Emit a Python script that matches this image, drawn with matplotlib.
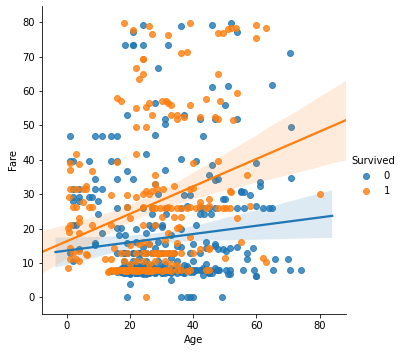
import matplotlib
matplotlib.use("Agg")
import matplotlib.pyplot as plt
import pandas as pd
import seaborn as sns

# (Age, Fare) pairs, Survived = 0
died_high = [(18.5, 73.5), (21, 73.5), (21, 73.5), (24, 73.5), (32, 73.5), (24, 79.2),
             (21, 77.3), (36, 78.85), (46, 79.2), (52, 79.65), (54, 77.3), (70.5, 71.0),
             (29, 66.6), (65, 61.9), (46, 61.2), (51, 61.4), (28, 56.5), (50, 55.9),
             (19, 53.1), (37, 53.1), (31, 52.0), (31, 50.5), (42, 52.0), (47, 52.0),
             (54, 51.9), (28, 47.1), (1, 46.9), (9, 46.9), (11, 46.9), (14, 46.9),
             (16, 46.9), (43, 46.9), (71, 49.5)]
died_mid = [(1, 39.7), (2, 39.7), (7, 39.7), (14, 39.7), (16, 39.7), (25, 41.6), (36, 40.1),
            (41, 39.7), (46, 38.5), (60, 39.0), (19, 36.75), (31, 37.0), (9, 34.4),
            (16, 34.4), (21, 34.4), (45, 35.5), (71, 34.65), (61, 33.5), (61, 32.3),
            (47, 34.0), (48, 34.4), (28, 33.0), (29, 30.0), (37, 29.7), (39, 29.7),
            (55, 30.5), (56, 30.7), (58, 29.7), (49.5, 28.7), (50, 28.7), (55, 31.0)]
died_kids = [(2, 31.4), (4, 31.4), (9, 31.4), (11, 31.4), (2, 29.1), (4, 29.1), (7, 29.1),
             (8, 29.1), (2, 27.9), (4, 27.9), (10, 27.9), (16, 26.0), (19, 26.3), (10, 24.15),
             (2, 21.1), (3, 21.1), (11, 18.8), (16, 20.25), (17, 20.25), (16.5, 18.0),
             (18.5, 18.0), (1, 12.8), (2, 10.5), (4, 14.1), (9, 15.7), (9, 15.2)]
died_26 = [(24, 26), (27, 26), (31.5, 26), (36, 26), (38, 26.55), (42, 26), (43, 26),
           (45, 26), (47, 26), (54, 26), (56, 26), (60, 26.55), (62, 26), (64, 26), (65, 26),
           (27, 24.15), (31.5, 24.15), (42, 24.15), (43.5, 24.15), (45.5, 24.15), (26, 21),
           (28, 21), (30, 21), (22, 19.97), (25, 18.75), (27, 20.25), (30, 20.5), (33, 18),
           (36, 19.97), (41, 21), (44, 16.1), (47, 15.0), (47, 15.5)]
died_13 = [(16, 13), (18, 13), (19, 13), (21, 13), (23, 13), (24, 14.5), (25, 13), (27, 13),
           (28, 14.45), (30, 13), (31, 15.5), (32, 13), (34, 13), (36, 14.5), (39, 13),
           (42, 13), (44, 14.4), (48, 14.0), (49.5, 14.0), (50.5, 13.5), (51.5, 14.4),
           (54, 14.5), (57, 13), (59, 14.4), (19, 15.85), (22, 16.1), (26, 15.5), (29, 16.1),
           (35, 15.05), (40, 15.5), (18, 13), (19, 13), (21, 13), (23, 13), (25, 13),
           (27, 13), (29, 13), (30, 13)]
died_10 = [(18, 10.5), (21, 10.5), (23, 11.5), (25, 10.5), (27, 9.5), (29, 10.5), (30, 9.225),
           (33, 11.5), (35, 10.5), (37, 9.5), (40, 10.5), (44, 9.8), (57, 11.2), (66, 11.2),
           (70, 11.2), (20, 9.5), (24, 9.35), (31, 9.8), (38, 9.225)]
died_8 = [(14, 7.75), (16, 8.05), (17, 7.9), (18, 7.75), (19, 8.05), (20, 7.9), (20.5, 7.75),
          (21, 8.05), (22, 7.9), (22, 7.25), (23, 7.75), (24, 8.05), (24, 7.9), (25, 7.75),
          (26, 8.05), (26, 7.9), (27, 7.75), (28, 8.05), (28, 7.9), (29, 7.75), (30, 8.05),
          (30, 7.9), (31, 7.75), (32, 8.05), (33, 7.9), (34, 7.75), (35, 8.05), (36, 7.9),
          (37, 7.75), (38, 8.05), (39, 7.9), (40, 7.75), (40, 8.05), (41, 7.9), (42.4, 7.8),
          (43.4, 7.8), (44.4, 7.8), (45.4, 7.8), (47.3, 7.8), (48.2, 7.8), (50.5, 7.8),
          (51.5, 7.8), (55.9, 7.8), (59.2, 7.8), (65.3, 7.8), (70.7, 7.8), (74, 7.8),
          (16, 7.25), (18, 7.05), (19, 8.66), (21, 7.225), (22, 7.25), (24, 8.66), (25, 7.05),
          (26, 7.225), (28, 7.25), (29, 8.66), (30, 7.05), (32, 7.225), (33, 7.25),
          (35, 8.66), (37, 7.05), (39, 7.225), (40, 7.25), (43, 8.66), (45, 7.05), (51, 6.8),
          (60, 6.2)]
died_8b = [(16, 7.75), (16.5, 7.9), (17, 8.05), (17, 7.925), (18, 7.225), (18, 7.05),
           (18, 8.66), (18.5, 7.85), (19, 7.75), (19, 7.9), (19, 8.05), (19, 7.925),
           (20, 7.225), (20, 7.05), (20, 8.66), (20, 7.85), (21, 7.75), (21, 7.9), (21, 8.05),
           (21, 7.925), (22, 7.225), (22, 7.05), (22, 8.66), (22, 7.85), (22, 7.75),
           (23, 7.9), (23, 8.05), (23, 7.925), (23, 7.225), (24, 7.05), (24, 8.66), (24, 7.85),
           (24, 7.75), (24, 7.9), (25, 8.05), (25, 7.925), (25, 7.225), (25, 7.05), (26, 8.66),
           (26, 7.85), (26, 7.75), (26, 7.9), (27, 8.05), (27, 7.925), (27, 7.225), (28, 7.05),
           (28, 8.66), (28, 7.85), (28, 7.75), (29, 7.9), (29, 8.05), (29, 7.925), (30, 7.225),
           (30, 7.05), (30, 8.66), (30, 7.85), (31, 7.75), (31, 7.9), (32, 8.05), (32, 7.925),
           (32, 7.225), (33, 7.05), (33, 8.66), (34, 7.85), (34, 7.75), (35, 7.9), (35, 8.05),
           (36, 7.925), (36, 7.225), (37, 7.05), (38, 8.66), (39, 7.85), (40, 7.75), (41, 7.9),
           (42, 8.05), (44, 7.925), (45, 7.225), (46, 7.05), (47, 8.66), (48, 7.85),
           (17, 7.25), (19, 7.05), (20, 7.25), (22, 7.125), (23, 7.25), (24, 7.05), (25, 7.25),
           (26, 7.125), (27, 7.25), (28, 7.05), (30, 7.25), (31, 7.125), (33, 7.25), (35, 7.05)]
died_8c = [(17, 7.5), (17.5, 8.4), (18, 9.0), (18, 6.95), (18.5, 7.65), (19, 8.1), (19, 9.35),
           (19.5, 7.4), (20, 8.45), (20, 6.9), (20.5, 7.6), (21, 9.2), (21, 8.3), (21.5, 7.0),
           (22, 7.55), (22, 9.5), (22.5, 8.2), (23, 6.95), (23, 7.65), (23.5, 8.45),
           (24, 9.0), (24, 7.4), (24.5, 8.1), (25, 6.9), (25, 9.35), (25.5, 7.6), (26, 8.3),
           (26, 7.0), (17, 8.25), (18, 7.35), (19, 8.9), (20, 7.1), (21, 7.7), (22, 8.6),
           (23, 9.1), (24, 6.85), (25, 7.5), (26, 8.4), (24, 7.8), (20, 7.95)]
died_low = [(20, 4.0), (33, 5.0), (43, 6.5), (45, 7.0), (51.5, 6.8), (60, 6.2),
            (19, 0), (36, 0), (38, 0), (39, 0), (40, 0), (49, 0)]

# Survived = 1
surv_high = [(18, 79.65), (24, 69.3), (24, 69.3), (21, 77.9), (26, 78.85), (27, 76.7),
             (32, 76.3), (39, 79.65), (36, 71.0), (38, 71.3), (22, 66.6), (24, 65.0),
             (23, 63.4), (48, 65.0), (48, 77.0), (49.5, 77.0), (51, 78.0), (52, 78.3),
             (53.5, 78.3), (60, 79.2), (63, 78.3), (60, 75.3), (16, 57.9), (17, 57.0),
             (22, 55.0), (25, 55.4), (26, 56.5), (30, 57.0), (31.5, 57.0), (32, 56.5),
             (33, 56.0), (39, 55.9), (44, 57.75), (48.5, 57.0), (54, 59.4), (27, 53.1),
             (33, 53.1), (35, 53.1), (35, 52.0), (37, 52.55), (42, 52.55), (47, 52.55),
             (48, 52.0), (52.5, 51.5), (22, 49.5), (25, 49.5)]
surv_mid = [(3, 41.6), (22, 41.6), (1, 39.0), (4, 38.75), (16, 39.4), (40, 39.0), (48, 39.6),
            (1, 37.0), (8, 36.75), (28, 35.5), (57, 35.5), (6, 32.5), (1, 31.4), (3, 31.4),
            (5, 31.4), (6, 31.4), (0.7, 29.1), (14, 29.7), (19, 29.7), (22, 29.1), (24, 30.0),
            (5, 27.75), (2, 26.25), (3, 26.25), (7, 26.25), (8, 26.25), (24, 26.25),
            (19, 26.25), (25, 31.0), (27, 31.0), (28.5, 31.4), (30.4, 31.4), (39, 31.4),
            (40, 31.7), (51.5, 30.9), (52, 30.5), (80, 30.0), (34, 32.5), (26, 30.0),
            (28, 33.0)]
surv_26 = [(27, 26), (28, 26), (29.5, 26), (31, 26), (32, 26.3), (33, 26), (35, 26), (36, 26),
           (38, 26), (39, 26.25), (41, 26), (42, 26.55), (44, 26), (45, 26.55), (48, 26),
           (49.5, 26), (50.5, 26), (51.5, 26), (58, 26.55), (45, 28.5), (42, 27.7),
           (54, 23.0), (36, 23.25), (30, 23.25), (34, 23.25), (28, 21), (35.5, 20.5),
           (35, 20.25), (4, 23.0), (4, 22.0), (0.42, 20.3), (0.8, 19.0), (1, 21.1), (4, 18.6),
           (8, 21.1), (14, 21.1), (20, 23), (24, 21), (32, 18.75)]
surv_kids = [(0.42, 8.5167), (1, 11.1), (2, 12.9), (3, 11.1), (4, 10.5), (4, 13.4),
             (6, 12.5), (6.5, 12.3), (1, 14.4), (12, 11.2), (14, 11.2), (13, 7.23)]
surv_13 = [(17, 13), (19, 13), (22, 13), (24, 13), (25, 13), (27, 13), (28, 13), (29, 13),
           (30, 13), (31, 13), (32, 13), (33, 13), (34, 13), (36, 13), (40, 13), (42, 14),
           (45, 14.3), (15, 14.45), (20, 15.25), (23, 15.5), (24, 16.1), (26, 15.5),
           (31, 16.7), (35, 15.9), (39, 17.4), (45, 14.1), (55, 16)]
surv_10 = [(18, 10.5), (22, 10.5), (24, 10.5), (28, 10.5), (29, 12.5), (31, 10.5), (35, 9.5),
           (50, 11.3), (62, 11.3), (63, 10.4), (20, 9.8), (26, 9.6), (33, 9.6)]
surv_8 = [(13.5, 7.75), (14, 7.925), (15, 8.05), (15, 7.75), (16, 7.925), (17, 8.05),
          (18, 7.75), (18, 7.925), (19, 8.05), (19, 7.75), (20, 7.925), (21, 8.05),
          (21, 7.75), (22, 7.925), (22, 8.05), (23, 7.75), (24, 7.925), (24, 8.05),
          (25, 7.75), (26, 7.925), (26, 8.05), (27, 7.75), (28, 7.925), (29, 8.05),
          (30, 7.75), (31, 7.925), (32, 8.05), (33, 7.75), (35, 7.925), (36, 8.05),
          (38, 7.75), (39, 7.925), (44, 7.9), (45, 7.9), (25, 0),
          (16, 7.75), (17, 7.925), (18, 7.88), (18, 8.05), (19, 7.75), (20, 7.925),
          (21, 7.88), (22, 8.05), (22, 7.75), (23, 7.925), (24, 7.88), (25, 8.05),
          (26, 7.75), (27, 7.925), (28, 7.88)]

died = pd.DataFrame(died_high + died_mid + died_kids + died_26 + died_13 + died_10
                    + died_8 + died_8b + died_8c + died_low, columns=["Age", "Fare"])
surv = pd.DataFrame(surv_high + surv_mid + surv_26 + surv_kids + surv_13 + surv_10
                    + surv_8, columns=["Age", "Fare"])

fig = plt.figure(figsize=(404 / 72, 352 / 72), dpi=72)
ax = fig.add_axes([41.7 / 404, 38 / 352, (346 - 41.7) / 404, 308 / 352])

# x range of all ages with the usual 5% margin; lines are drawn across it
lo = min(died.Age.min(), surv.Age.min())
hi = max(died.Age.max(), surv.Age.max())
pad = 0.05 * (hi - lo)
ax.set_xlim(lo - pad, hi + pad)
sns.regplot(data=died, x="Age", y="Fare", ax=ax, truncate=False, color="C0", seed=0)

# after the first band the axis widens again, the second line follows it
w = (hi - lo) + 2 * pad
ax.set_xlim(lo - pad - 0.05 * w, hi + pad + 0.05 * w)
sns.regplot(data=surv, x="Age", y="Fare", ax=ax, truncate=False, color="C1", seed=0)

ax.set_xlim(lo - pad - 0.05 * w, hi + pad + 0.05 * w)
ax.set_ylim(-4.86, 84.74)
sns.despine(ax=ax)

handles = ax.collections[0], ax.collections[2]
fig.legend(handles, ["0", "1"], title="Survived", loc="center right", frameon=False)

fig.savefig("out.png", dpi=72)
